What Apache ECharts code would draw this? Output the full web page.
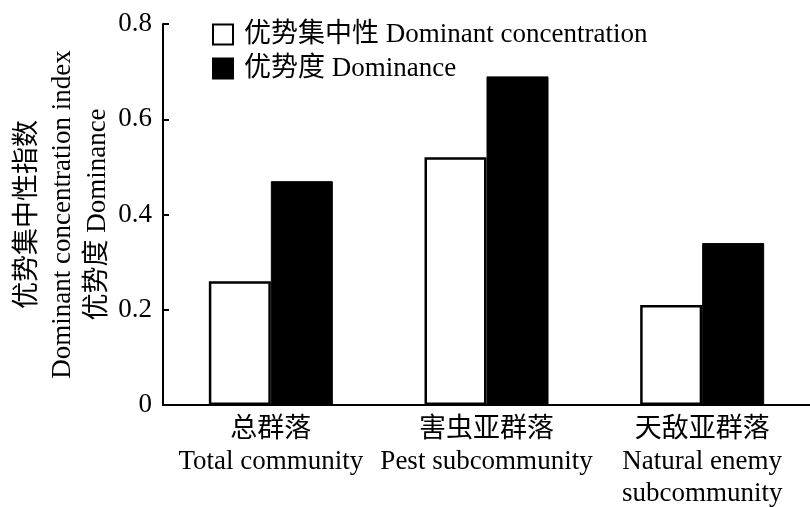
<!DOCTYPE html>
<html>
<head>
<meta charset="utf-8">
<script src="https://cdn.jsdelivr.net/npm/echarts@6/dist/echarts.min.js"></script>
<style>html,body{margin:0;padding:0;background:#fff;}#c{width:810px;height:507px;}</style>
</head>
<body>
<div id="c"></div>
<script>
const categories = ['总群落\nTotal community', '害虫亚群落\nPest subcommunity', '天敌亚群落\nNatural enemy\nsubcommunity'];
const seriesNames = ['优势集中性 Dominant concentration', '优势度 Dominance'];
const concentration = [0.26, 0.52, 0.21];
const dominance = [0.47, 0.69, 0.34];
const yTicks = [0, 0.2, 0.4, 0.6, 0.8];
const yAxisTitle = '优势集中性指数\nDominant concentration index\n优势度 Dominance';

const FONT = "'Liberation Serif', 'Noto Sans CJK SC', serif";
const FS = 27;
const chart = echarts.init(document.getElementById('c'), null, {renderer: 'canvas'});
chart.setOption({
  backgroundColor: '#fff',
  animation: false,
  textStyle: {fontFamily: FONT, color: '#000'},
  legend: {
    orient: 'vertical', left: 207, top: 16,
    icon: 'rect',
    itemWidth: 20, itemHeight: 20, itemGap: 7,
    textStyle: {fontFamily: FONT, fontSize: FS, lineHeight: 27, color: '#000', padding: [0, 0, 0, 6]},
    data: seriesNames
  },
  grid: {left: 163, right: 0, top: 24, bottom: 102, containLabel: false, outerBoundsMode: 'none'},
  xAxis: {
    type: 'category', data: categories,
    axisLine: {lineStyle: {color: '#000', width: 2}},
    axisTick: {inside: true, length: 9, lineStyle: {color: '#000', width: 2}},
    axisLabel: {fontFamily: FONT, fontSize: FS, color: '#000', lineHeight: 32, margin: 9, interval: 0}
  },
  yAxis: {
    type: 'value', min: yTicks[0], max: yTicks[yTicks.length - 1], interval: 0.2,
    splitLine: {show: false},
    axisLine: {show: true, lineStyle: {color: '#000', width: 2}},
    axisTick: {show: true, inside: true, length: 6, lineStyle: {color: '#000', width: 2}},
    axisLabel: {fontFamily: FONT, fontSize: FS, color: '#000', margin: 11,
      formatter: v => v === 0 ? '0' : v.toFixed(1)},
    name: yAxisTitle, nameLocation: 'middle', nameRotate: 90, nameGap: 100, nameMoveOverlap: false,
    nameTextStyle: {fontFamily: FONT, fontSize: FS, color: '#000', lineHeight: 35, align: 'center', verticalAlign: 'middle'}
  },
  series: [
    {name: seriesNames[0], type: 'bar', data: concentration, barWidth: 62, barGap: '0%',
     itemStyle: {color: '#fff', borderColor: '#000', borderWidth: 2.5}},
    {name: seriesNames[1], type: 'bar', data: dominance, barWidth: 62, barGap: '0%',
     itemStyle: {color: '#000', borderColor: '#000', borderWidth: 1}}
  ]
});
</script>
</body>
</html>
